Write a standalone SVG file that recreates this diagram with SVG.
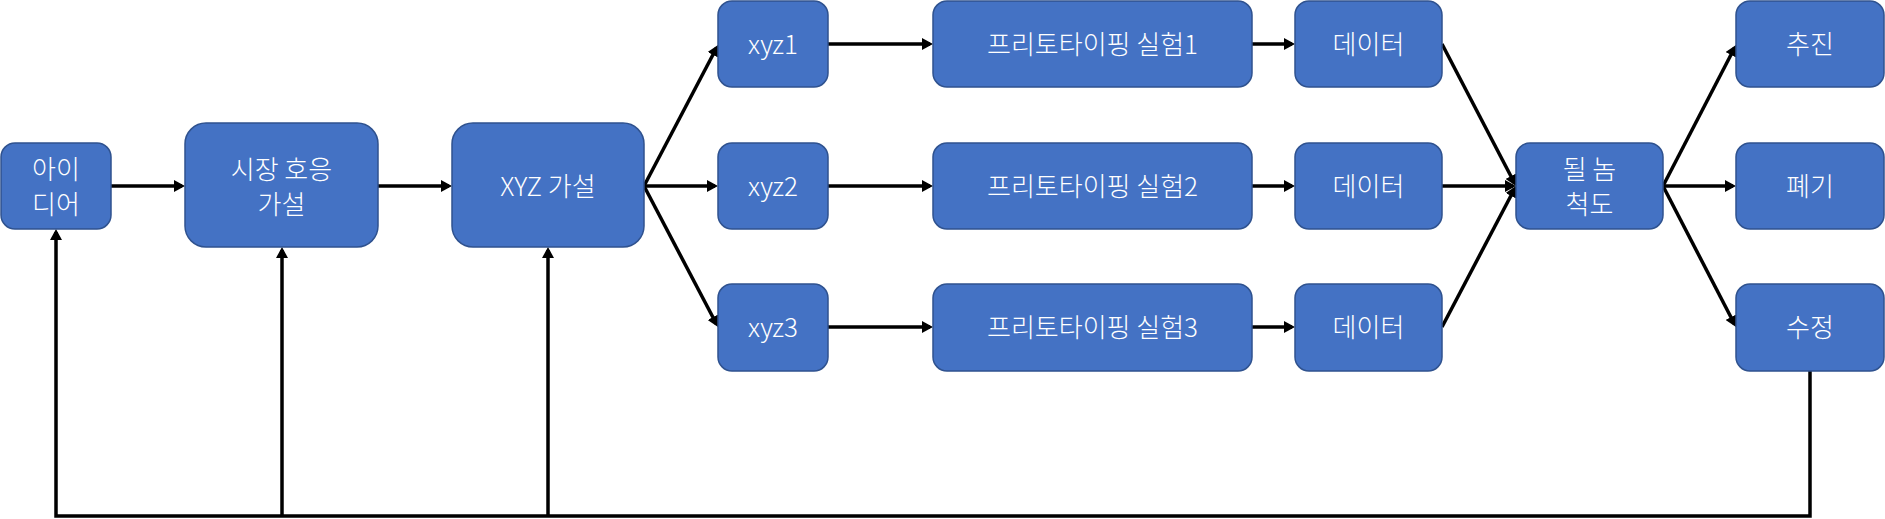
<svg xmlns="http://www.w3.org/2000/svg" width="1885" height="519" viewBox="0 0 1885 519">
<style>
.box{fill:#4472C4;stroke:#2F528F;stroke-width:1.5}
.t{fill:#FFFFFF;font-family:"Malgun Gothic","Noto Sans CJK KR",sans-serif;font-size:26px;font-weight:300;text-anchor:middle}
.c{fill:none;stroke:#000000;stroke-width:3.5}
.a{marker-end:url(#ah)}
</style>
<defs>
<marker id="ah" markerUnits="userSpaceOnUse" markerWidth="12" markerHeight="12" refX="8" refY="6" orient="auto">
<path d="M0,0 L11,6 L0,12 Z" fill="#000000"/>
</marker>
</defs>
<rect width="1885" height="519" fill="#FFFFFF"/>
<g id="connectors">
<line class="c a" x1="111" y1="186" x2="182" y2="186"/>
<line class="c a" x1="378" y1="186" x2="449" y2="186"/>
<line class="c a" x1="644" y1="186" x2="716.6" y2="47.7"/>
<line class="c a" x1="644" y1="186" x2="715" y2="186"/>
<line class="c a" x1="644" y1="186" x2="716.6" y2="324.3"/>
<line class="c a" x1="828" y1="44" x2="930" y2="44"/>
<line class="c a" x1="828" y1="186" x2="930" y2="186"/>
<line class="c a" x1="828" y1="327" x2="930" y2="327"/>
<line class="c a" x1="1252" y1="44" x2="1292" y2="44"/>
<line class="c a" x1="1252" y1="186" x2="1292" y2="186"/>
<line class="c a" x1="1252" y1="327" x2="1292" y2="327"/>
<line class="c a" x1="1442" y1="44" x2="1514.6" y2="183.3"/>
<line class="c a" x1="1442" y1="186" x2="1513" y2="186"/>
<line class="c a" x1="1442" y1="327" x2="1514.6" y2="188.7"/>
<line class="c a" x1="1663" y1="186" x2="1734.6" y2="47.7"/>
<line class="c a" x1="1663" y1="186" x2="1733" y2="186"/>
<line class="c a" x1="1663" y1="186" x2="1734.6" y2="324.3"/>
<polyline class="c a" points="1810,371 1810,516 56,516 56,232"/>
<line class="c a" x1="282" y1="516" x2="282" y2="250"/>
<line class="c a" x1="548" y1="516" x2="548" y2="250"/>
</g>
<g id="n-idea"><rect class="box" x="1" y="143" width="110" height="86" rx="14"/><text class="t" x="56" y="179">아이<tspan x="56" dy="34.5">디어</tspan></text></g>
<g id="n-market"><rect class="box" x="185" y="123" width="193" height="124" rx="21"/><text class="t" x="281.5" y="179">시장 호응<tspan x="281.5" dy="34.5">가설</tspan></text></g>
<g id="n-xyz"><rect class="box" x="452" y="123" width="192" height="124" rx="21"/><text class="t" x="548" y="196">XYZ 가설</text></g>
<g id="n-xyz1"><rect class="box" x="718" y="1" width="110" height="86" rx="14"/><text class="t" x="773" y="54">xyz1</text></g>
<g id="n-xyz2"><rect class="box" x="718" y="143" width="110" height="86" rx="14"/><text class="t" x="773" y="196">xyz2</text></g>
<g id="n-xyz3"><rect class="box" x="718" y="284" width="110" height="87" rx="14"/><text class="t" x="773" y="337">xyz3</text></g>
<g id="n-proto1"><rect class="box" x="933" y="1" width="319" height="86" rx="14"/><text class="t" x="1092.5" y="54">프리토타이핑 실험1</text></g>
<g id="n-proto2"><rect class="box" x="933" y="143" width="319" height="86" rx="14"/><text class="t" x="1092.5" y="196">프리토타이핑 실험2</text></g>
<g id="n-proto3"><rect class="box" x="933" y="284" width="319" height="87" rx="14"/><text class="t" x="1092.5" y="337">프리토타이핑 실험3</text></g>
<g id="n-data1"><rect class="box" x="1295" y="1" width="147" height="86" rx="14"/><text class="t" x="1368.5" y="54">데이터</text></g>
<g id="n-data2"><rect class="box" x="1295" y="143" width="147" height="86" rx="14"/><text class="t" x="1368.5" y="196">데이터</text></g>
<g id="n-data3"><rect class="box" x="1295" y="284" width="147" height="87" rx="14"/><text class="t" x="1368.5" y="337">데이터</text></g>
<g id="n-measure"><rect class="box" x="1516" y="143" width="147" height="86" rx="14"/><text class="t" x="1589.5" y="179">될 놈<tspan x="1589.5" dy="34.5">척도</tspan></text></g>
<g id="n-go"><rect class="box" x="1736" y="1" width="148" height="86" rx="14"/><text class="t" x="1810" y="54">추진</text></g>
<g id="n-drop"><rect class="box" x="1736" y="143" width="148" height="86" rx="14"/><text class="t" x="1810" y="196">폐기</text></g>
<g id="n-fix"><rect class="box" x="1736" y="284" width="148" height="87" rx="14"/><text class="t" x="1810" y="337">수정</text></g>
</svg>
